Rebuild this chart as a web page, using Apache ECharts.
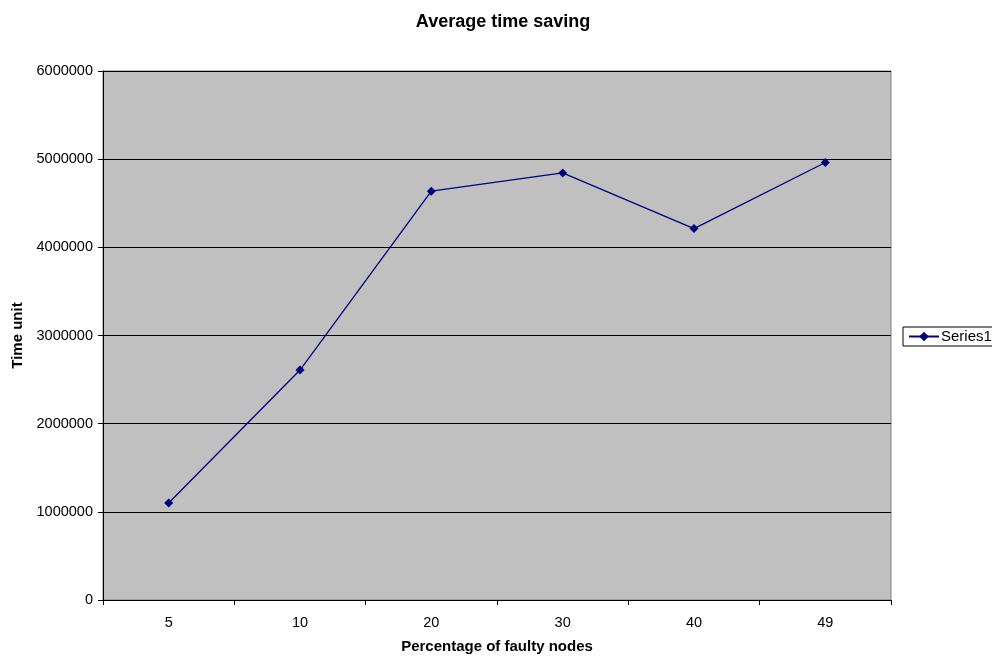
<!DOCTYPE html>
<html><head><meta charset="utf-8">
<script src="https://cdn.jsdelivr.net/npm/echarts@6/dist/echarts.min.js"></script>
<style>html,body{margin:0;padding:0;background:#fff}#c{width:992px;height:659px}</style>
</head><body><div id="c"></div>
<script>
const categories = ['5', '10', '20', '30', '40', '49'];
const series1 = [1101000, 2608000, 4637000, 4844000, 4213000, 4962000];
const yTicks = { min: 0, max: 6000000, interval: 1000000 };
const F = 'Liberation Sans, Arial, sans-serif';
const chart = echarts.init(document.getElementById('c'));
chart.setOption({
  animation: false,
  backgroundColor: '#ffffff',
  title: { text: 'Average time saving', left: 498, top: 8, textAlign: 'center',
    textStyle: { fontFamily: F, fontSize: 18, fontWeight: 'bold', color: '#000' } },
  legend: { left: 903, top: 327, orient: 'vertical', borderColor: '#000', borderWidth: 1,
    padding: [2, 20, 2, 5], itemWidth: 30, itemHeight: 12, itemGap: 0,
    textStyle: { fontFamily: F, fontSize: 15, color: '#000', padding: [0, 0, 0, -3] },
    data: ['Series1'] },
  grid: { left: 103, right: 101, top: 71, bottom: 56, show: true,
    backgroundColor: '#C0C0C0', borderColor: '#808080', borderWidth: 1, containLabel: false },
  xAxis: { type: 'category', data: categories, boundaryGap: true,
    name: 'Percentage of faulty nodes', nameLocation: 'middle', nameGap: 39,
    nameTextStyle: { fontFamily: F, fontSize: 15, fontWeight: 'bold', color: '#000' },
    axisLine: { lineStyle: { color: '#000', width: 1 } },
    axisTick: { show: true, alignWithLabel: false, length: 5, lineStyle: { color: '#000' } },
    axisLabel: { fontFamily: F, fontSize: 14.5, color: '#000', margin: 15 },
    splitLine: { show: false } },
  yAxis: { type: 'value', min: yTicks.min, max: yTicks.max, interval: yTicks.interval,
    name: 'Time unit', nameLocation: 'middle', nameGap: 77, nameRotate: 90,
    nameTextStyle: { fontFamily: F, fontSize: 15, fontWeight: 'bold', color: '#000' },
    axisLine: { show: true, lineStyle: { color: '#000', width: 1 } },
    axisTick: { show: true, length: 5, lineStyle: { color: '#000' } },
    axisLabel: { fontFamily: F, fontSize: 14.5, color: '#000', margin: 10,
      formatter: function (v) { return String(v); } },
    splitLine: { show: true, lineStyle: { color: '#000', width: 1 } } },
  series: [{ name: 'Series1', type: 'line', data: series1,
    symbol: 'diamond', symbolSize: 9, showAllSymbol: true,
    lineStyle: { color: '#000080', width: 1.3 },
    itemStyle: { color: '#000080' } }]
});
</script></body></html>
